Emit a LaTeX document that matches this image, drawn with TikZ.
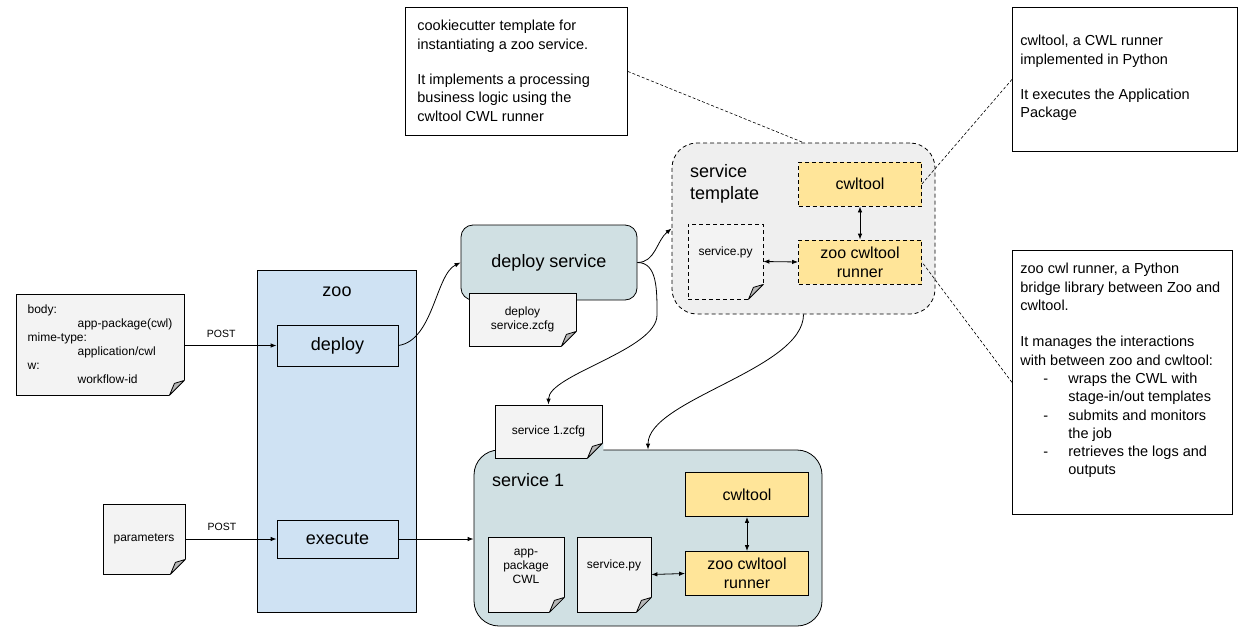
\documentclass[tikz,border=0pt]{standalone}
\usepackage{fontspec}
\setmainfont{Liberation Sans}
\usetikzlibrary{arrows.meta}

\definecolor{zooblue}{HTML}{CFE2F3}
\definecolor{svcteal}{HTML}{D0E0E3}
\definecolor{docgrey}{HTML}{F3F3F3}
\definecolor{tmplgrey}{HTML}{EFEFEF}
\definecolor{cwlyellow}{HTML}{FFE599}
\definecolor{foldgrey}{HTML}{B7B7B7}

\newcommand\fbig{\fontsize{18}{22}\selectfont}
\newcommand\fmid{\fontsize{16}{19}\selectfont}
\newcommand\fnote{\fontsize{14.5}{18.3}\selectfont}
\newcommand\fdoc{\fontsize{12}{14}\selectfont}
\newcommand\fpost{\fontsize{10.5}{12}\selectfont}

% folded corner of a document node
\newcommand\docfold[2]{%
  \fill[#2] ([shift={(-16pt,-1pt)}]#1.south east) -- ([shift={(1pt,-1pt)}]#1.south east)
    -- ([shift={(1pt,16pt)}]#1.south east) -- cycle;
  \draw[line width=0.8pt, fill=foldgrey, line join=round]
    ([yshift=15pt]#1.south east) -- ([xshift=-15pt]#1.south east)
    -- ([shift={(-10pt,12pt)}]#1.south east) -- cycle;
}

\tikzset{
  box/.style={draw, line width=0.8pt, inner sep=0pt, align=center},
  zoobox/.style={box, fill=zooblue},
  svcbox/.style={box, fill=svcteal},
  tmplbox/.style={box, fill=tmplgrey, dashed, dash pattern=on 4pt off 3pt, rounded corners=25pt},
  cwlbox/.style={box, fill=cwlyellow, font=\fmid, minimum width=123pt, minimum height=44pt},
  docnote/.style={box, fill=docgrey, font=\fdoc},
  notebox/.style={draw, line width=0.8pt, fill=white, font=\fnote, inner xsep=8pt,
    inner ysep=12pt, anchor=north west},
  arr/.style={line width=0.8pt, -{Latex[length=6pt,width=4.5pt]}},
  biarr/.style={line width=0.8pt, {Latex[length=6pt,width=4.5pt]}-{Latex[length=6pt,width=4.5pt]}},
  callout/.style={line width=0.6pt, dash pattern=on 3pt off 2pt},
  postlbl/.style={font=\fpost, above=8pt, pos=0.4, inner sep=0pt},
}

\begin{document}
\begin{tikzpicture}[x=1pt,y=-1pt]
\useasboundingbox (0,0) rectangle (1247,640);

% zoo
\node[zoobox, minimum width=159pt, minimum height=342pt] (zoo) at (336.5,441) {};
\node[font=\fbig] (zoolbl) at (337,292) {zoo};
\node[zoobox, minimum width=121pt, minimum height=41pt, font=\fbig] (deploy) at (337.5,345.5) {deploy};
\node[zoobox, minimum width=121pt, minimum height=38pt, font=\fbig] (execute) at (337.5,539) {execute};

% requests
\node[docnote, minimum width=168pt, minimum height=101pt, align=left] (body) at (100,344.5)
  {body:\\\hspace*{50pt}app-package(cwl)\\mime-type:\\\hspace*{50pt}application/cwl\\w:\\\hspace*{50pt}workflow-id};
\docfold{body}{white}
\node[docnote, minimum width=82pt, minimum height=70pt] (params) at (144,539) {parameters};
\docfold{params}{white}

% deploy service
\node[svcbox, rounded corners=12pt, minimum width=176pt, minimum height=75pt, font=\fbig] (dsvc) at (549,262.5) {deploy service};
\node[docnote, minimum width=107pt, minimum height=53pt] (dzcfg) at (522.5,319.5) {deploy\\service.zcfg};
\docfold{dzcfg}{white}

% service template
\node[tmplbox, minimum width=263pt, minimum height=171pt] (tmpl) at (803.5,228.5) {};
\node[font=\fbig, align=left, anchor=west, inner sep=0pt] (tmpllbl) at (690,184) {service\\template};
\node[cwlbox, dashed, dash pattern=on 4pt off 3pt] (tcwl) at (860,184) {cwltool};
\node[cwlbox, dashed, dash pattern=on 4pt off 3pt] (trun) at (860,262) {zoo cwltool\\runner};
\node[docnote, dashed, dash pattern=on 4pt off 3pt, minimum width=75pt, minimum height=75pt] (tpy) at (725.5,261.5) {service.py\\[6pt]};
\docfold{tpy}{tmplgrey}

% service 1
\node[svcbox, rounded corners=25pt, minimum width=348pt, minimum height=176pt] (svc1) at (648,538) {};
\node[font=\fbig, anchor=west, inner sep=0pt] (svc1lbl) at (492,480) {service 1};
\node[docnote, minimum width=107pt, minimum height=53pt] (szcfg) at (548.5,431.5) {service 1.zcfg};
\docfold{szcfg}{svcteal}
\node[cwlbox] (scwl) at (747,494.5) {cwltool};
\node[cwlbox] (srun) at (747,573.5) {zoo cwltool\\runner};
\node[docnote, minimum width=76pt, minimum height=75pt] (apkg) at (526,574.5) {app-\\package\\CWL\\[2pt]};
\docfold{apkg}{svcteal}
\node[docnote, minimum width=74pt, minimum height=75pt] (spy) at (614,574.5) {service.py\\[6pt]};
\docfold{spy}{svcteal}

% notes
\node[notebox, inner xsep=12pt, inner ysep=13pt] (note1) at (405,7) {\parbox[t][102pt][t]{198pt}{\raggedright
  cookiecutter template for\\
  instantiating a zoo service.\\[17pt]
  It implements a processing\\
  business logic using the\\
  cwltool CWL runner}};
\node[notebox] (note2) at (1012,7) {\parbox[t][120pt][t]{209pt}{\raggedright
  \vspace*{16pt}cwltool, a CWL runner\\
  implemented in Python\\[17pt]
  It executes the Application\\
  Package}};
\node[notebox, inner ysep=13pt] (note3) at (1012,250) {\parbox[t][238pt][t]{204pt}{\raggedright
  zoo cwl runner, a Python\\
  bridge library between Zoo and\\
  cwltool.\\[18pt]
  It manages the interactions\\
  with between zoo and cwltool:\\
  \makebox[48pt][l]{\hspace*{23pt}-}wraps the CWL with\\
  \hspace*{48pt}stage-in/out templates\\
  \makebox[48pt][l]{\hspace*{23pt}-}submits and monitors\\
  \hspace*{48pt}the job\\
  \makebox[48pt][l]{\hspace*{23pt}-}retrieves the logs and\\
  \hspace*{48pt}outputs}};

% connectors
\draw[arr] (body.east |- deploy.west) -- node[postlbl] {POST} (deploy.west);
\draw[arr] (params.east |- execute.west) -- node[postlbl] {POST} (execute.west);
\draw[arr] (execute.east) -- (execute.east -| svc1.west);
\draw[arr] (deploy.east) .. controls +(35,-5) and +(-25,12) .. (dsvc.west);
\draw[arr] (dsvc.east) .. controls +(18,0) and +(-15,12) .. (tmpl.west);
\draw[arr] (dsvc.east) .. controls +(20,0) and +(0,-25) .. (657,315)
  .. controls +(0,35) and +(0,-30) .. (szcfg.north);
\draw[arr] (tmpl.south) .. controls +(0,55) and +(0,-50) .. (svc1.north);
\draw[biarr] (tcwl) -- (trun);
\draw[biarr] (tpy.east) -- (trun.west);
\draw[biarr] (scwl) -- (srun);
\draw[biarr] (spy.east) -- (srun.west);

% callouts
\draw[callout] (note1.east) -- (tmpl.north);
\draw[callout] (note2.west) -- (tcwl.east);
\draw[callout] (note3.west) -- (trun.east);
\end{tikzpicture}
\end{document}
